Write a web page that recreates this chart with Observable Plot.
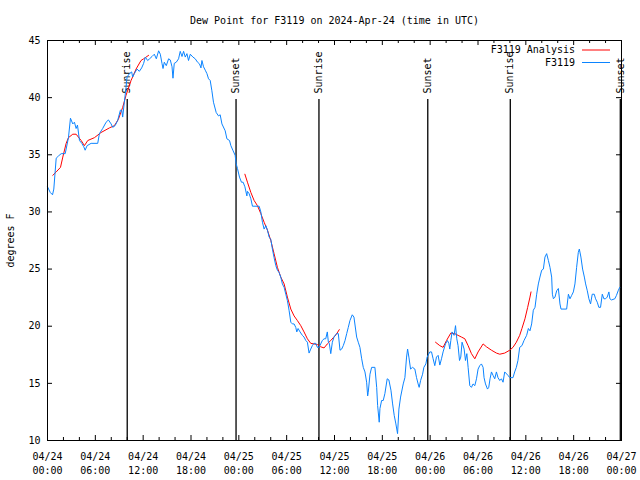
<!DOCTYPE html>
<html><head><meta charset="utf-8">
<script src="https://cdn.jsdelivr.net/npm/d3@7"></script>
<script src="https://cdn.jsdelivr.net/npm/@observablehq/plot@0.6"></script>
<style>body{margin:0;background:#fff}#chart svg{display:block}</style>
</head><body><div id="chart"></div>
<script>
const title = "Dew Point for F3119 on 2024-Apr-24 (time in UTC)";
const yLabel = "degrees F";
const seriesNames = ["F3119 Analysis", "F3119"];
const seriesColors = ["#ff0000", "#0b84ff"];
const xTickHours = [0, 6, 12, 18, 24, 30, 36, 42, 48, 54, 60, 66, 72];
const xTickLabels = ["04/24\n00:00","04/24\n06:00","04/24\n12:00","04/24\n18:00","04/25\n00:00","04/25\n06:00","04/25\n12:00","04/25\n18:00","04/26\n00:00","04/26\n06:00","04/26\n12:00","04/26\n18:00","04/27\n00:00"];
const xMinorHours = [2,4,8,10,14,16,20,22,26,28,32,34,38,40,44,46,50,52,56,58,62,64,68,70];
const yTicks = [10, 15, 20, 25, 30, 35, 40, 45];
const sunHours = [10.0, 23.65, 34.05, 47.7, 58.05, 71.85];
const sunLabels = ["Sunrise", "Sunset", "Sunrise", "Sunset", "Sunrise", "Sunset"];

// F3119 observations: [hours since 04/24 00:00 UTC, dew point F]
const f3119 = [[0,32.2],[0.35,31.7],[0.63,31.5],[0.79,32.0],[1.09,34.7],[1.38,34.9],[1.72,35.1],[2.22,35.1],[2.63,36.5],[2.88,38.2],[3.17,37.7],[3.38,37.85],[3.59,37.3],[3.76,37.6],[4.01,36.25],[4.30,36.0],[4.55,35.7],[4.72,35.4],[4.97,35.8],[5.47,36.0],[6.30,36.0],[6.51,36.85],[6.92,37.3],[7.35,37.85],[7.64,38.05],[7.98,37.7],[8.18,37.4],[8.48,37.55],[8.80,38.0],[9.14,38.9],[9.31,38.9],[9.43,38.3],[9.64,39.6],[9.85,40.9],[9.98,41.8],[10.27,42.1],[10.56,42.25],[10.68,41.8],[10.89,42.1],[11.23,42.5],[11.52,42.3],[11.81,42.6],[12.06,43.0],[12.27,43.55],[12.56,43.25],[12.81,43.4],[13.11,43.6],[13.40,43.8],[13.65,43.4],[13.94,44.1],[14.15,43.8],[14.36,43.0],[14.49,42.55],[14.65,43.1],[14.90,42.8],[15.19,43.4],[15.40,43.3],[15.62,42.7],[15.74,41.7],[15.90,43.0],[16.15,43.1],[16.44,43.4],[16.65,44.05],[16.87,43.6],[17.07,44.05],[17.28,43.55],[17.49,43.85],[17.69,43.25],[17.91,43.8],[18.24,43.55],[18.53,43.4],[18.82,43.1],[19.07,42.95],[19.25,42.6],[19.37,43.25],[19.57,42.7],[19.79,42.4],[20.00,42.1],[20.20,41.65],[20.41,41.5],[20.62,40.6],[20.82,39.6],[21.16,38.7],[21.45,38.4],[21.66,38.5],[21.88,37.7],[22.29,37.1],[22.50,36.4],[22.83,36.25],[23.00,35.8],[23.25,35.4],[23.54,34.95],[23.67,34.2],[23.83,33.8],[24.08,33.05],[24.33,32.6],[24.54,32.6],[24.76,32.2],[25.01,31.4],[25.08,31.8],[25.29,31.6],[25.51,31.15],[25.71,30.5],[26.55,30.5],[26.76,30.0],[26.96,29.1],[27.17,28.5],[27.39,28.8],[27.59,28.4],[27.80,27.8],[28.01,27.6],[28.21,26.75],[28.42,26.0],[28.64,25.3],[28.84,24.9],[29.05,24.7],[29.26,24.3],[29.46,23.7],[29.68,23.4],[29.89,22.8],[30.09,22.25],[30.30,21.4],[30.52,20.35],[30.72,20.2],[30.93,20.2],[31.14,19.9],[31.27,19.5],[31.43,19.8],[31.68,19.5],[31.97,19.2],[32.18,19.05],[32.40,18.75],[32.60,18.6],[32.81,17.65],[33.02,18.0],[33.22,18.3],[33.43,18.5],[33.65,18.5],[33.85,18.15],[34.06,18.15],[34.27,18.45],[34.47,18.75],[34.69,18.9],[34.90,18.9],[35.10,19.5],[35.23,18.6],[35.35,18.5],[35.53,17.6],[35.73,18.6],[35.94,19.05],[36.06,19.2],[36.28,19.35],[36.48,19.35],[36.69,17.9],[36.90,18.0],[37.10,18.3],[37.32,18.75],[37.53,19.35],[37.73,19.9],[37.94,20.5],[38.23,21.0],[38.44,20.8],[38.78,19.05],[38.98,18.6],[39.19,18.15],[39.41,17.15],[39.61,16.4],[39.82,16.0],[40.03,15.1],[40.16,13.9],[40.23,14.2],[40.45,15.8],[40.66,16.4],[41.07,16.4],[41.29,14.65],[41.41,13.05],[41.61,11.6],[41.70,12.8],[41.91,13.5],[42.11,13.5],[42.32,14.1],[42.61,15.4],[42.82,15.3],[43.08,14.4],[43.29,13.2],[43.49,12.2],[43.70,11.45],[43.91,10.6],[44.08,12.75],[44.29,13.8],[44.62,14.95],[44.83,15.5],[45.04,17.3],[45.17,18.0],[45.33,17.3],[45.54,16.25],[45.79,16.4],[46.08,16.25],[46.29,15.5],[46.49,14.95],[46.62,14.65],[46.80,15.25],[47.05,15.8],[47.21,16.4],[47.46,16.7],[47.62,17.3],[47.96,17.75],[48.17,17.75],[48.37,17.15],[48.58,16.55],[48.79,17.3],[49.00,17.45],[49.21,16.6],[49.42,17.15],[49.62,17.75],[49.92,18.45],[50.17,18.75],[50.34,18.5],[50.46,18.0],[50.59,18.75],[50.75,19.5],[51.00,19.2],[51.18,20.05],[51.34,18.9],[51.50,18.3],[51.68,17.0],[51.84,17.3],[52.00,18.6],[52.26,18.0],[52.43,17.0],[52.60,17.6],[52.76,16.4],[52.97,14.8],[53.18,14.65],[53.38,14.95],[53.60,14.8],[53.81,15.4],[54.01,16.25],[54.22,16.55],[54.43,16.7],[54.64,16.4],[54.76,15.5],[54.94,14.95],[55.19,14.5],[55.35,14.65],[55.51,15.4],[55.69,16.0],[55.89,15.7],[56.10,15.4],[56.31,16.0],[56.51,15.5],[56.73,15.25],[56.94,15.4],[57.14,15.1],[57.35,16.0],[57.76,15.7],[57.98,15.5],[58.39,15.5],[58.60,16.0],[58.81,16.4],[59.01,17.0],[59.23,18.15],[59.51,18.3],[59.77,18.75],[60.10,19.2],[60.32,19.8],[60.52,19.6],[60.73,20.2],[60.94,21.4],[61.15,21.65],[61.36,22.8],[61.57,23.7],[61.77,24.3],[61.99,24.9],[62.20,25.0],[62.40,26.05],[62.61,26.35],[62.83,25.75],[63.03,25.15],[63.24,24.3],[63.33,22.8],[63.46,22.4],[63.66,22.55],[63.87,23.1],[64.08,23.3],[64.28,21.95],[64.41,21.5],[65.12,21.5],[65.34,22.8],[65.54,22.4],[65.75,22.7],[65.96,23.0],[66.16,23.7],[66.37,25.15],[66.58,26.45],[66.71,26.75],[66.91,26.05],[67.12,25.0],[67.34,24.3],[67.50,23.7],[67.71,23.1],[67.91,22.4],[68.12,21.95],[68.33,22.8],[68.58,22.8],[68.75,22.4],[68.96,22.1],[69.16,21.65],[69.37,21.65],[69.59,22.8],[69.79,22.4],[70.00,22.4],[70.21,22.55],[70.42,23.0],[70.54,22.4],[70.75,22.3],[71.16,22.4],[71.37,22.7],[71.58,23.1],[71.78,23.4]];

// F3119 Analysis, three separate runs
const analysisRun1 = [[0.66,33.2],[1.09,33.5],[1.63,33.9],[1.92,34.8],[2.34,36.0],[2.63,36.5],[3.17,36.8],[3.59,36.8],[4.22,36.25],[4.63,35.8],[5.05,36.25],[5.89,36.5],[6.72,36.95],[7.76,37.35],[8.39,37.55],[8.89,38.1],[9.43,39.15],[9.85,40.2],[10.48,41.5],[11.11,42.5],[11.73,43.25],[12.06,43.4],[12.68,43.7]];
const analysisRun2 = [[24.76,33.3],[25.08,32.6],[25.51,31.7],[25.92,31.0],[26.33,30.55],[26.76,29.85],[27.17,29.1],[27.59,28.4],[28.01,27.5],[28.42,26.35],[28.84,25.15],[29.26,24.3],[29.68,23.7],[30.09,22.55],[30.52,21.5],[30.93,20.9],[31.34,20.5],[31.77,20.05],[32.18,19.5],[32.60,18.9],[33.02,18.5],[33.43,18.45],[33.85,18.4],[34.27,18.2],[34.69,18.1],[35.10,18.45],[35.53,18.75],[35.85,19.0],[36.19,19.25],[36.60,19.7]];
const analysisRun3 = [[48.67,18.6],[49.21,18.3],[49.62,18.15],[50.05,18.75],[50.59,19.4],[51.09,19.35],[51.50,19.2],[51.93,19.05],[52.35,18.9],[52.76,18.3],[53.18,17.6],[53.60,17.15],[54.01,17.75],[54.64,18.45],[55.06,18.2],[55.69,17.9],[56.31,17.65],[56.73,17.55],[57.35,17.65],[57.98,17.9],[58.39,18.15],[58.81,18.6],[59.23,19.2],[59.51,19.8],[59.89,20.65],[60.23,21.65],[60.52,22.55],[60.65,23.0]];

const W = 640, H = 480, mT = 40, mB = 40, mL = 47, mR = 19;
const innerW = W - mL - mR, innerH = H - mT - mB;
const font = "'DejaVu Sans Mono', monospace";

const obs = f3119.map(([h, v]) => ({h, v}));
const analysis = [analysisRun1, analysisRun2, analysisRun3]
  .flatMap((run, k) => run.map(([h, v]) => ({h, v, run: k})));
const sun = sunHours.map((h, i) => ({h, label: sunLabels[i]}));

const chart = Plot.plot({
  width: W, height: H,
  marginTop: mT, marginBottom: mB, marginLeft: mL, marginRight: mR,
  style: {fontFamily: font, fontSize: "10px", background: "#fff", color: "#000", overflow: "visible"},
  x: {domain: [0, 72]},
  y: {domain: [10, 45]},
  marks: [
    Plot.axisX(xTickHours, {tickSize: 0, tickPadding: 10, lineHeight: 1.4, label: null,
      tickFormat: d => xTickLabels[xTickHours.indexOf(d)]}),
    Plot.axisY(yTicks, {tickSize: 0, tickPadding: 7, label: null}),
    Plot.text([yLabel], {text: d => d, frameAnchor: "left", dx: -37, rotate: -90,
      textAnchor: "middle", lineAnchor: "middle", fill: "#000"}),
    // inward ticks (bottom/top/left/right)
    Plot.ruleX(xTickHours, {x: d => d, insetTop: innerH - 5, stroke: "#000"}),
    Plot.ruleX(xTickHours, {x: d => d, insetBottom: innerH - 5, stroke: "#000"}),
    Plot.ruleX(xMinorHours, {x: d => d, insetTop: innerH - 3, stroke: "#000"}),
    Plot.ruleX(xMinorHours, {x: d => d, insetBottom: innerH - 3, stroke: "#000"}),
    Plot.ruleY(yTicks, {y: d => d, insetRight: innerW - 5, stroke: "#000"}),
    Plot.ruleY(yTicks, {y: d => d, insetLeft: innerW - 5, stroke: "#000"}),
    // sunrise / sunset markers
    Plot.ruleX(sun, {x: "h", insetTop: 59, stroke: "#000", strokeWidth: 1.3}),
    Plot.text(sun, {x: "h", text: "label", frameAnchor: "top", dy: 53, rotate: -90,
      textAnchor: "start", lineAnchor: "middle", fill: "#000"}),
    // series
    Plot.line(analysis, {x: "h", y: "v", z: "run", stroke: seriesColors[0], strokeWidth: 1}),
    Plot.line(obs, {x: "h", y: "v", stroke: seriesColors[1], strokeWidth: 1}),
    Plot.frame({stroke: "#000", strokeWidth: 1}),
    Plot.text([title], {text: d => d, frameAnchor: "top", dy: -20, lineAnchor: "middle", fill: "#000"})
  ]
});

// legend (top right, inside frame)
const svg = d3.select(chart);
const lg = svg.append("g").attr("font-family", font).attr("font-size", 10);
seriesNames.forEach((name, i) => {
  const y = mT + 10 + i * 12.5;
  lg.append("text").attr("x", 575).attr("y", y).attr("dy", "0.32em")
    .attr("text-anchor", "end").attr("fill", "#000").text(name);
  lg.append("line").attr("x1", 582).attr("x2", 610).attr("y1", y).attr("y2", y)
    .attr("stroke", seriesColors[i]).attr("stroke-width", 1);
});

document.getElementById("chart").appendChild(chart);
</script>
</body></html>
